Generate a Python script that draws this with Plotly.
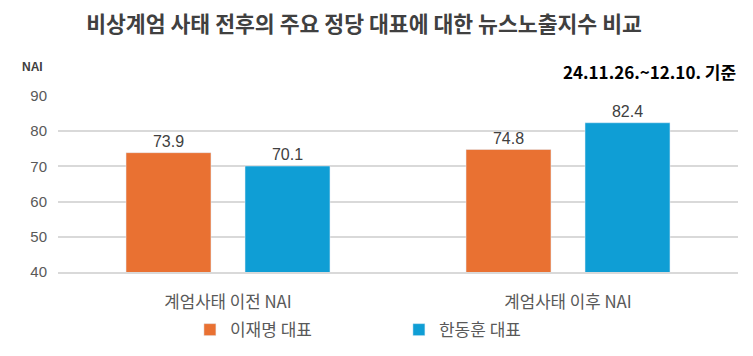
import plotly.graph_objects as go

categories = ["계엄사태 이전 NAI", "계엄사태 이후 NAI"]
series_names = ["이재명 대표", "한동훈 대표"]
lee_values = [73.9, 74.8]
han_values = [70.1, 82.4]
colors = ["#E97132", "#0F9ED5"]
y_ticks = [40, 50, 60, 70, 80, 90]

# The page body has an 8px default margin, so the figure is sized to fill
# the remaining viewport.
W, H = 745, 348

fig = go.Figure()
for name, vals, col in zip(series_names, [lee_values, han_values], colors):
    fig.add_trace(go.Bar(
        x=categories, y=vals, name=name, marker_color=col,
        text=[f"{v:.1f}" for v in vals], textposition="outside",
        textfont=dict(family="Liberation Sans, Arial", size=16, color="#404040"),
        cliponaxis=False,
    ))

fig.update_layout(
    width=W, height=H,
    margin=dict(l=50, r=15, t=88, b=84, autoexpand=False),
    paper_bgcolor="white", plot_bgcolor="white",
    barmode="group", bargap=0.3, bargroupgap=0.286,
    showlegend=True,
    legend=dict(orientation="h", x=0.194, xanchor="left", y=-0.33, yanchor="middle",
                font=dict(family="Noto Sans CJK KR", size=17, color="#595959"),
                entrywidth=164, entrywidthmode="pixels", traceorder="normal",
                itemwidth=30),
    title=dict(text="<b>비상계엄 사태 전후의 주요 정당 대표에 대한 뉴스노출지수 비교</b>",
               x=356 / W, xref="container", xanchor="center",
               y=1 - 16 / H, yref="container", yanchor="middle",
               font=dict(family="Noto Sans CJK KR", size=21.6, color="#404040")),
    font=dict(family="Liberation Sans, Arial", color="#595959"),
)
fig.update_yaxes(range=[40, 90], tickvals=y_ticks, showgrid=True, gridcolor="#D9D9D9",
                 gridwidth=1.5, zeroline=False, showline=False, automargin=False,
                 tickfont=dict(family="Liberation Sans, Arial", size=15, color="#595959"),
                 ticklabelstandoff=10)
fig.update_xaxes(showline=True, linecolor="#D9D9D9", linewidth=1.5, automargin=False,
                 tickfont=dict(family="Noto Sans CJK KR", size=16.8, color="#595959"),
                 ticklabelstandoff=14)

fig.add_annotation(text="<b>NAI</b>", xref="paper", yref="paper", x=-0.038, y=1.165,
                   xanchor="center", yanchor="middle", showarrow=False,
                   font=dict(family="Liberation Sans, Arial", size=12, color="#404040"))
fig.add_annotation(text="<b>24.11.26.~12.10. 기준</b>", xref="paper", yref="paper",
                   x=1.0, y=1.142, xanchor="right", yanchor="middle",
                   showarrow=False,
                   font=dict(family="Noto Sans CJK KR", size=17, color="#000000"))

fig.write_html("out.html")
